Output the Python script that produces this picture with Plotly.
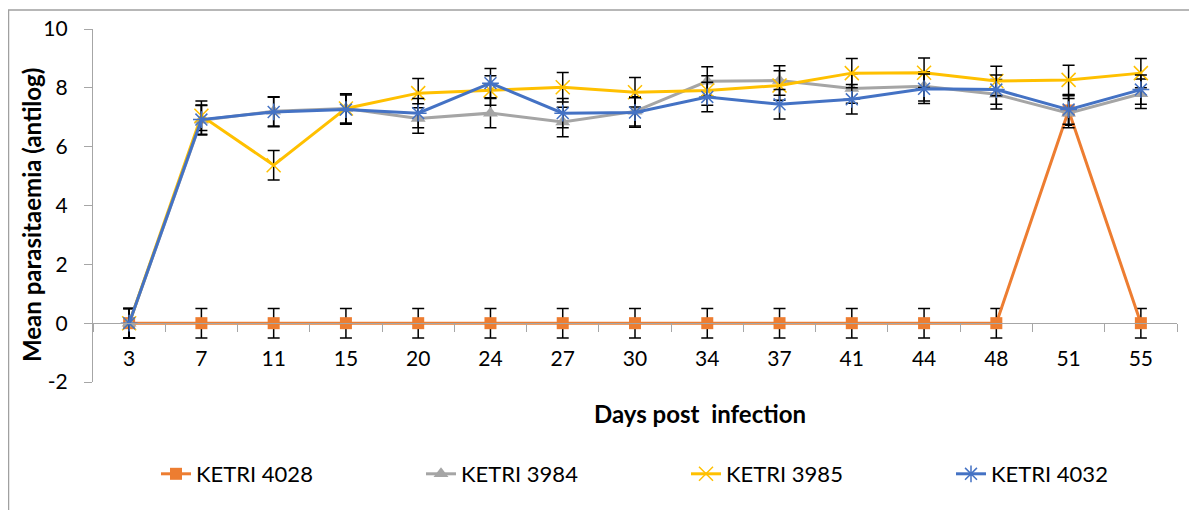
import plotly.graph_objects as go

days = ["3", "7", "11", "15", "20", "24", "27", "30", "34", "37", "41", "44", "48", "51", "55"]

ketri_4028 = [0, 0, 0, 0, 0, 0, 0, 0, 0, 0, 0, 0, 0, 7.23, 0]
ketri_3984 = [0, 6.9, 7.2, 7.3, 6.96, 7.14, 6.84, 7.2, 8.22, 8.25, 7.98, 8.05, 7.78, 7.14, 7.8]
ketri_3985 = [0, 7.05, 5.37, 7.3, 7.82, 7.91, 8.02, 7.85, 7.91, 8.08, 8.5, 8.51, 8.23, 8.27, 8.5]
ketri_4032 = [0, 6.92, 7.18, 7.26, 7.14, 8.16, 7.14, 7.16, 7.69, 7.44, 7.61, 7.97, 7.94, 7.26, 7.94]

err_4028 = [0.5] * 15
err_3984 = [0.5] * 15
err_3985 = [0.5] * 15
err_4032 = [0.5] * 15

y_tick_vals = [-2, 0, 2, 4, 6, 8, 10]
y_tick_text = ["-2", "0", "2", "4", "6", "8", "10"]

series = [
    ("KETRI 4028", ketri_4028, err_4028, "#ED7D31", dict(symbol="square", size=12, color="#ED7D31")),
    ("KETRI 3984", ketri_3984, err_3984, "#A5A5A5", dict(symbol="triangle-up", size=13, color="#A5A5A5")),
    ("KETRI 3985", ketri_3985, err_3985, "#FFC000", dict(symbol="x-thin-open", size=14, color="#FFC000",
                                                       line=dict(color="#FFC000", width=1.5))),
    ("KETRI 4032", ketri_4032, err_4032, "#4472C4", dict(symbol="asterisk-open", size=14, color="#4472C4",
                                                       line=dict(color="#4472C4", width=1.5))),
]

fig = go.Figure()
for name, vals, errs, col, mk in series:
    fig.add_trace(go.Scatter(
        x=days, y=vals, name=name, mode="lines+markers",
        line=dict(color=col, width=3),
        marker=mk,
        error_y=dict(type="data", array=errs, visible=True, color="black", thickness=1.5, width=6),
    ))

font_family = "Lato, Calibri, Carlito, sans-serif"
# page body has an 8px margin; the figure is sized/offset to compensate
OFF = 8
W, H = 1197 - OFF, 510 - OFF
L, T = 93 - OFF, 29 - OFF
pw, ph = 1084, 353
R = W - L - pw
B = H - T - ph


def px_x(sx):
    """screen x (reference pixels) -> paper x"""
    return (sx - OFF - L) / pw


def px_y(sy):
    """screen y (reference pixels) -> paper y"""
    return (T + ph - (sy - OFF)) / ph


fig.update_layout(
    width=W, height=H,
    margin=dict(l=L, r=R, t=T, b=B, autoexpand=False),
    paper_bgcolor="white", plot_bgcolor="white",
    font=dict(family=font_family, size=21, color="black"),
    showlegend=True,
    legend=dict(orientation="h", x=px_x(156), xanchor="left",
                y=px_y(474), yanchor="middle",
                font=dict(size=22), entrywidth=220, entrywidthmode="pixels",
                bgcolor="rgba(0,0,0,0)"),
    xaxis=dict(type="category", anchor="free", position=2 / 12, range=[-0.5, 14.5],
               showline=True, linecolor="#A6A6A6", linewidth=1.3,
               ticks="outside", tickson="boundaries", ticklen=8, tickcolor="#A6A6A6",
               showgrid=False, zeroline=False, ticklabelstandoff=16, automargin=False,
               tickfont=dict(size=21)),
    yaxis=dict(range=[-2, 10], tickvals=y_tick_vals, ticktext=y_tick_text,
               showline=True, linecolor="#A6A6A6", linewidth=1.3,
               ticks="outside", ticklen=8, tickcolor="#A6A6A6", automargin=False,
               ticklabelstandoff=12,
               showgrid=False, zeroline=False, tickfont=dict(size=21)),
    annotations=[
        dict(text="<b>Mean parasitaemia (antilog)</b>", textangle=-90,
             xref="paper", yref="paper", x=px_x(31), y=px_y(215),
             xanchor="center", yanchor="middle", showarrow=False, font=dict(size=24)),
        dict(text="<b>Days post  infection</b>",
             xref="paper", yref="paper", x=px_x(700), y=px_y(413),
             xanchor="center", yanchor="middle", showarrow=False, font=dict(size=24)),
    ],
    shapes=[
        dict(type="rect", xref="paper", yref="paper",
             x0=(0.5 - L) / pw, x1=(W + 10 - L) / pw,
             y0=px_y(530), y1=px_y(10),
             line=dict(color="#A0A0A0", width=1.5), fillcolor="rgba(0,0,0,0)", layer="below"),
    ],
)

fig.write_html("out.html")
